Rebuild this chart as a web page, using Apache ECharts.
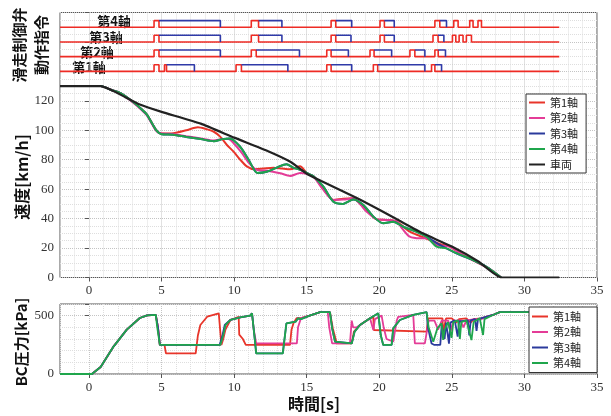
<!DOCTYPE html>
<html>
<head>
<meta charset="utf-8">
<title>滑走制御</title>
<script src="https://cdn.jsdelivr.net/npm/echarts@6/dist/echarts.min.js"></script>
</head>
<body style="margin:0;background:#fff">
<div id="main" style="width:611px;height:416px;"></div>
<script type="text/javascript">
// 滑走制御弁 動作指令 : [立上り, 赤終了, 青終了] (s)
var cmd1 = [[4.48,4.82,4.82],[5.2,5.34,7.26],[10.13,10.5,13.7],[16.38,16.68,18.1],[19.59,19.89,23.14],[23.6,23.83,24.29]];
var cmd2 = [[4.48,4.82,9.05],[11.18,11.52,14.5],[16.38,16.68,17.87],[19.36,19.64,20.85],[22.11,22.45,23.14],[23.83,24.06,24.56]];
var cmd3 = [[4.48,4.82,9.05],[11.18,11.68,13.29],[16.68,17.0,18.05],[20.05,20.35,21.03],[23.7,24.05,24.45],[25.04,25.27,25.27],[25.5,25.77,25.77],[26.0,26.35,26.35]];
var cmd4 = [[4.48,4.82,9.05],[11.18,11.68,13.29],[16.68,17.0,18.1],[20.05,20.35,21.03],[23.83,24.17,24.63],[25.13,25.43,25.43],[26.23,26.46,26.46],[26.8,27.04,27.04]];
var cmdBase = [140, 150, 160, 170];
var cmdStep = 4.5;
var cmdEnd = 32.4;

// 速度 [s, km/h]
var spd1 = [[-2,130],[0.8,130],[1.5,127.5],[2.2,125],[3.0,119.5],[3.6,114.5],[4.0,110.5],[4.6,100.5],[4.95,97.8],[5.8,98],[6.7,100],[7.5,102],[8.0,101],[8.6,99],[9.05,95.5],[9.5,90],[9.96,85.5],[10.42,80],[10.87,75.5],[11.4,73.5],[12.0,74],[12.7,74.6],[13.3,74],[13.86,73.5],[14.54,75.5],[15.0,71],[15.5,68.5],[16.15,60],[16.84,52.7],[17.5,53.5],[18.2,53.8],[18.7,50],[19.13,45.9],[19.82,39.5],[20.5,39.1],[21.2,37.9],[22.1,31.1],[22.8,28.2],[23.49,25.5],[24.18,22.8],[24.86,21],[25.55,16.5],[26.5,11.5],[27.4,7],[28.4,0]];
var spd2 = [[-2,130],[0.8,130],[1.5,127.5],[2.2,125],[3.0,119],[3.6,114],[4.0,110],[4.6,100],[4.95,98],[5.8,97.5],[6.7,96],[7.7,94.5],[8.6,93],[9.2,94],[9.6,94],[9.96,91.2],[10.5,85],[11.0,78],[11.56,73.1],[12.3,72.5],[13.17,70.8],[13.86,69],[14.54,71],[15.0,70.5],[15.46,68.5],[16.15,59.5],[16.84,52.7],[17.53,52.9],[18.21,53.8],[18.7,49.5],[19.13,44.7],[19.82,39.5],[20.5,39.1],[21.2,37.9],[21.6,33],[22.1,27.7],[22.8,26.6],[23.26,26.6],[23.95,22],[24.86,21],[25.55,16.5],[26.5,11.5],[27.4,7],[28.4,0]];
var spd3 = [[-2,130],[0.8,130],[1.5,127.5],[2.2,125],[3.0,119.5],[3.6,114.5],[4.0,110.5],[4.6,100.5],[4.95,97.5],[5.8,97],[6.7,95.5],[7.7,94],[8.6,92.5],[9.2,94],[9.7,94.5],[10.4,89],[11.0,80],[11.6,71],[12.3,72],[13.0,75],[13.6,77],[14.1,74.5],[14.6,73],[15.2,70],[15.5,68.5],[16.15,61.7],[16.84,51.5],[17.5,50],[18.2,53],[18.9,49.3],[19.6,41.3],[20.27,36.8],[20.96,37.9],[21.65,34.5],[22.57,31.1],[23.26,27.7],[23.95,23.4],[24.63,19.8],[25.55,15.4],[26.46,11.9],[27.38,7.3],[28.4,0]];
var spd4 = [[-2,130],[0.8,130],[1.5,127.5],[2.2,125],[3.0,119.5],[3.6,114.5],[4.0,110.5],[4.6,100.5],[4.95,97.5],[5.8,97],[6.7,95.5],[7.7,94],[8.6,92.5],[9.2,94],[9.7,94.5],[10.4,89],[11.0,80],[11.6,71],[12.3,72],[13.0,75],[13.6,77],[14.1,74.5],[14.6,73],[15.2,70],[15.5,68.5],[16.15,61.7],[16.84,51.5],[17.5,50],[18.2,53],[18.9,49.3],[19.6,41.3],[20.27,36.8],[20.96,37.9],[21.65,34.5],[22.57,31.1],[23.26,27.7],[23.95,20.9],[24.63,19.8],[25.32,16.5],[26.46,11.9],[27.38,7.3],[28.4,0]];
var spdCar = [[-2,130],[0.8,130],[1.5,127.5],[2.5,122.5],[3.5,117.5],[5,112.5],[7.7,104.5],[10,95],[12.3,86],[13.9,78.5],[15,70.5],[16,65.5],[18.45,54],[20,46],[21.4,38.5],[23,30],[25,21],[26.8,11],[28.4,0],[32.4,0]];

// BC圧力 [s, kPa]
var bc1 = [[-2,0],[0.2,0],[0.8,60],[1.7,237],[2.6,380],[3.5,480],[4.0,503],[4.6,506],[4.75,400],[4.88,249],[5.2,249],[5.3,177],[7.35,177],[7.5,330],[7.67,420],[8.14,491],[8.94,520],[9.05,525],[9.12,249],[9.25,300],[9.4,380],[9.74,463],[10.31,491],[10.35,337],[10.6,300],[10.8,249],[13.85,249],[13.95,380],[14.1,440],[14.3,478],[14.6,478],[15.2,500],[15.92,530],[16.6,530],[16.8,391],[17.07,262],[18.1,262],[18.25,363],[18.67,420],[19.36,477],[19.59,490],[19.62,377],[19.7,363],[23.26,363],[23.37,477],[24.35,477],[24.4,363],[24.6,477],[25.0,477],[25.3,440],[25.5,470],[26.0,477],[26.3,440],[26.5,470],[27.0,477],[27.83,506],[28.3,530],[32.4,530]];
var bc2 = [[-2,0],[0.2,0],[0.8,60],[1.7,237],[2.6,380],[3.5,480],[4.0,503],[4.6,506],[4.75,400],[4.88,249],[9.05,249],[9.25,334],[9.4,420],[9.74,463],[10.42,486],[11.1,500],[11.23,520],[11.35,380],[11.52,262],[14.32,262],[14.4,400],[14.6,478],[15.2,500],[15.92,530],[16.45,530],[16.55,400],[16.75,262],[17.98,262],[18.1,457],[18.2,400],[18.45,400],[18.67,420],[19.36,477],[19.59,377],[19.7,470],[20.16,500],[20.3,400],[20.5,300],[20.96,277],[21.2,457],[21.3,490],[22.34,506],[22.45,262],[23.14,262],[23.4,457],[23.8,457],[24.05,380],[24.3,457],[24.75,457],[24.9,360],[25.1,457],[25.6,460],[25.8,400],[26.0,460],[26.6,470],[27.0,470],[27.83,506],[28.3,530],[32.4,530]];
var bc3 = [[-2,0],[0.2,0],[0.8,60],[1.7,237],[2.6,380],[3.5,480],[4.0,503],[4.6,506],[4.75,400],[4.88,249],[9.0,249],[9.2,334],[9.35,420],[9.74,463],[10.42,486],[11.1,500],[11.23,520],[11.35,380],[11.52,177],[13.35,177],[13.6,434],[14.25,449],[14.4,477],[14.6,470],[15.2,500],[15.92,530],[16.6,530],[16.75,391],[16.95,277],[17.07,262],[18.1,262],[18.3,363],[18.67,420],[19.36,477],[19.93,520],[20.05,520],[20.1,334],[20.27,249],[20.85,249],[20.96,391],[21.42,463],[22.34,506],[23.26,530],[23.35,400],[23.6,262],[23.8,249],[24.2,249],[24.3,420],[24.5,300],[24.6,440],[24.8,260],[24.9,440],[25.2,460],[25.4,320],[25.5,450],[26.1,460],[26.2,330],[26.3,460],[26.6,470],[26.7,370],[26.8,470],[27.83,506],[28.3,530],[32.4,530]];
var bc4 = [[-2,0],[0.2,0],[0.8,60],[1.7,237],[2.6,380],[3.5,480],[4.0,503],[4.6,506],[4.7,400],[4.88,249],[9.05,249],[9.25,334],[9.4,420],[9.74,463],[10.42,486],[11.1,500],[11.23,520],[11.35,380],[11.52,177],[13.35,177],[13.6,434],[14.25,449],[14.4,477],[14.6,470],[15.2,500],[15.92,530],[16.6,530],[16.75,391],[16.95,277],[17.07,262],[18.1,262],[18.3,363],[18.67,420],[19.36,477],[19.93,520],[20.05,520],[20.1,334],[20.27,249],[20.85,249],[20.96,391],[21.42,463],[22.34,506],[23.26,530],[23.4,400],[23.72,277],[23.83,262],[24.0,391],[24.29,434],[24.4,292],[24.5,380],[24.74,445],[24.98,310],[25.1,445],[25.43,460],[25.55,300],[25.65,445],[26.0,460],[26.35,291],[26.5,445],[26.92,477],[27.15,334],[27.25,470],[27.83,506],[28.3,530],[32.4,530]];

var axisNames = ['第1軸', '第2軸', '第3軸', '第4軸'];
var xTicks = [0, 5, 10, 15, 20, 25, 30, 35];

var colors = ['#e8352a', '#e43c97', '#2b3a9c', '#1fa64c'];
var cmdRed = '#ee2b24';
var cmdBlue = '#2f3aa8';
var numFont = 'Liberation Serif';
var jpFont = 'Noto Sans CJK JP';
var gridLight = '#dedede';
var gridDark = '#c4c4c4';

// 赤：パルス全体、青：保持区間
function redLine(p, b) {
    var h = b + cmdStep;
    var d = [[-2, b]];
    p.forEach(function(q) {
        d.push([q[0], b], [q[0], h], [q[1], h], [q[1], b]);
    });
    d.push([cmdEnd, b]);
    return d;
}
function blueLine(p, b) {
    var h = b + cmdStep;
    var d = [];
    p.forEach(function(q) {
        if (q[2] > q[1]) {
            d.push([q[1], h], [q[2], h], [q[2], b], ['-', '-']);
        }
    });
    return d;
}

function mainX(gridIndex) {
    return {
        type: 'value', gridIndex: gridIndex, min: -2, max: 35, interval: 1,
        axisLine: { show: false },
        axisTick: { show: false },
        axisLabel: {
            margin: 7, fontFamily: numFont, fontSize: 13, color: '#333',
            formatter: function(v) { return v % 5 === 0 ? String(v) : ''; }
        },
        splitLine: { show: true, lineStyle: { type: 'dotted', width: 1,
            color: [gridLight, gridLight, gridDark, gridLight, gridLight] } }
    };
}
function tickX(gridIndex) {
    return {
        type: 'value', gridIndex: gridIndex, position: 'top', min: -2, max: 35,
        axisLine: { show: false }, axisLabel: { show: false }, splitLine: { show: false },
        axisTick: { show: true, inside: true, length: 4, customValues: xTicks,
            lineStyle: { color: '#555' } }
    };
}

var cmds = [cmd1, cmd2, cmd3, cmd4];
var spds = [spd1, spd2, spd3, spd4];
var bcs = [bc1, bc2, bc3, bc4];

var series = [];
cmds.forEach(function(c, i) {
    series.push({ name: 'cmdR' + i, type: 'line', xAxisIndex: 0, yAxisIndex: 0,
        data: redLine(c, cmdBase[i]), symbol: 'none', color: cmdRed,
        lineStyle: { width: 1.6, color: cmdRed } });
    series.push({ name: 'cmdB' + i, type: 'line', xAxisIndex: 0, yAxisIndex: 0,
        data: blueLine(c, cmdBase[i]), symbol: 'none', color: cmdBlue, connectNulls: false,
        lineStyle: { width: 1.6, color: cmdBlue } });
});
spds.forEach(function(s, i) {
    series.push({ name: axisNames[i], type: 'line', xAxisIndex: 0, yAxisIndex: 0,
        data: s, symbol: 'none', smooth: 0.25, color: colors[i],
        lineStyle: { width: 2, color: colors[i] } });
});
series.push({ name: '車両', type: 'line', xAxisIndex: 0, yAxisIndex: 0,
    data: spdCar, symbol: 'none', smooth: 0.15, color: '#222',
    lineStyle: { width: 2.2, color: '#222' } });
bcs.forEach(function(s, i) {
    series.push({ name: axisNames[i], type: 'line', xAxisIndex: 2, yAxisIndex: 2,
        data: s, symbol: 'none', color: colors[i],
        lineStyle: { width: 1.8, color: colors[i] } });
});

var legendBase = {
    orient: 'vertical', icon: 'rect', itemWidth: 16, itemHeight: 2, itemGap: 2.5,
    backgroundColor: '#fff', borderColor: '#333', borderWidth: 1, borderRadius: 0,
    textStyle: { fontFamily: jpFont, fontSize: 11, lineHeight: 13, color: '#222' },
    selectedMode: false
};

var chart = echarts.init(document.getElementById('main'));
chart.setOption({
    animation: false,
    backgroundColor: '#fff',
    grid: [
        { left: 60, right: 14, top: 12.5, height: 265, show: true, borderColor: '#555', borderWidth: 1 },
        { left: 60, right: 14, top: 304, height: 70, show: true, borderColor: '#555', borderWidth: 1 }
    ],
    xAxis: [mainX(0), tickX(0), mainX(1), tickX(1)],
    yAxis: [
        { type: 'value', gridIndex: 0, min: 0, max: 180, interval: 5,
          axisLine: { show: false }, axisTick: { show: false },
          axisLabel: { margin: 6, fontFamily: numFont, fontSize: 13, color: '#333',
              formatter: function(v) { return (v % 20 === 0 && v <= 120) ? String(v) : ''; } },
          splitLine: { show: true, lineStyle: { type: 'dotted', width: 1,
              color: [gridDark, gridLight, gridLight, gridLight] } } },
        { type: 'value', gridIndex: 0, position: 'right', min: 0, max: 180, interval: 20,
          axisLine: { show: false }, axisLabel: { show: false }, splitLine: { show: false },
          axisTick: { show: true, inside: true, length: 4, lineStyle: { color: '#555' } } },
        { type: 'value', gridIndex: 1, min: 0, max: 600, interval: 100,
          axisLine: { show: false }, axisTick: { show: false },
          axisLabel: { margin: 6, fontFamily: numFont, fontSize: 13, color: '#333',
              formatter: function(v) { return (v === 0 || v === 500) ? String(v) : ''; } },
          splitLine: { show: true, lineStyle: { type: 'dotted', width: 1,
              color: [gridDark, gridLight, gridLight, gridLight, gridLight] } } },
        { type: 'value', gridIndex: 1, position: 'right', min: 0, max: 600, interval: 500,
          axisLine: { show: false }, axisLabel: { show: false }, splitLine: { show: false },
          axisTick: { show: true, inside: true, length: 4, lineStyle: { color: '#555' } } }
    ],
    legend: [
        echarts.util.extend({ left: 526, top: 94, padding: [2, 8, 2, 3],
            data: axisNames.concat(['車両']) }, legendBase),
        echarts.util.extend({ left: 529, top: 307, padding: [3, 16, 3, 3],
            data: axisNames.slice() }, legendBase)
    ],
    graphic: [
        { type: 'text', x: 30, y: 45, rotation: Math.PI / 2,
          style: { text: '滑走制御弁\n動作指令', font: 'bold 15px "Noto Sans CJK JP"',
              lineHeight: 22, fill: '#111', textAlign: 'center', textVerticalAlign: 'middle' } },
        { type: 'text', x: 21.5, y: 177, rotation: Math.PI / 2,
          style: { text: '速度[km/h]', font: 'bold 16px "Noto Sans CJK JP"',
              fill: '#111', textAlign: 'center', textVerticalAlign: 'middle' } },
        { type: 'text', x: 21, y: 342, rotation: Math.PI / 2,
          style: { text: 'BC圧力[kPa]', font: 'bold 15px "Noto Sans CJK JP"',
              fill: '#111', textAlign: 'center', textVerticalAlign: 'middle' } },
        { type: 'text', x: 314, y: 404,
          style: { text: '時間[s]', font: 'bold 16px "Noto Sans CJK JP"',
              fill: '#111', textAlign: 'center', textVerticalAlign: 'middle' } },
        { type: 'text', x: 114, y: 21, style: { text: '第4軸', font: 'bold 13px "Noto Sans CJK JP"',
              fill: '#111', textAlign: 'center', textVerticalAlign: 'middle' } },
        { type: 'text', x: 106, y: 37, style: { text: '第3軸', font: 'bold 13px "Noto Sans CJK JP"',
              fill: '#111', textAlign: 'center', textVerticalAlign: 'middle' } },
        { type: 'text', x: 97, y: 52, style: { text: '第2軸', font: 'bold 13px "Noto Sans CJK JP"',
              fill: '#111', textAlign: 'center', textVerticalAlign: 'middle' } },
        { type: 'text', x: 89, y: 67, style: { text: '第1軸', font: 'bold 13px "Noto Sans CJK JP"',
              fill: '#111', textAlign: 'center', textVerticalAlign: 'middle' } }
    ],
    series: series
});
</script>
</body>
</html>
